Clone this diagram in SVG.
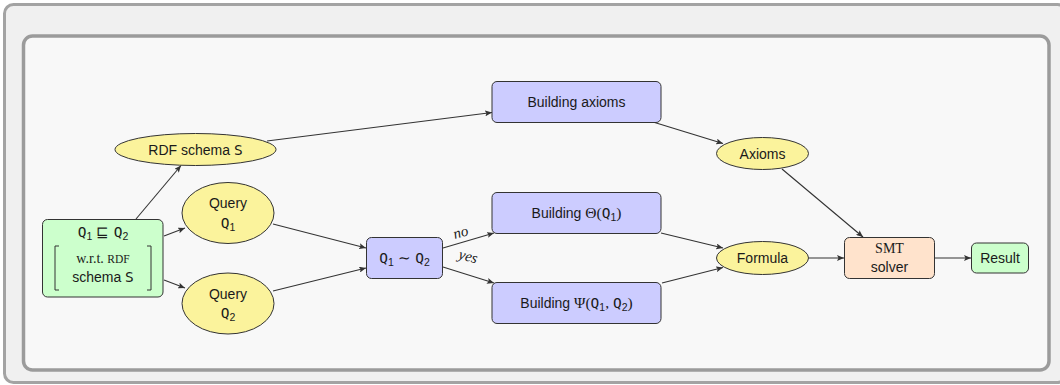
<svg xmlns="http://www.w3.org/2000/svg" width="1060" height="385" viewBox="0 0 1060 385">
<defs>
<style>
.sans{font-family:"Liberation Sans",Arial,sans-serif;font-size:14px;fill:#1a1a1a}
.tt{font-family:"DejaVu Sans Mono",monospace;font-size:14.5px}
.serif{font-family:"Liberation Serif","Times New Roman",serif}
.it{font-family:"Liberation Serif","Times New Roman",serif;font-style:italic;font-size:15px;fill:#1a1a1a}
.sub{font-size:10.5px}
.ell{fill:#fbf39c;stroke:#333;stroke-width:1}
.blue{fill:#ccccff;stroke:#333;stroke-width:1}
.green{fill:#ccffcc;stroke:#333;stroke-width:1}
.peach{fill:#ffe3cc;stroke:#333;stroke-width:1}
.edge{fill:none;stroke:#333;stroke-width:1.1;marker-end:url(#arr)}
</style>
<marker id="arr" markerWidth="8" markerHeight="6" refX="7" refY="3" orient="auto" markerUnits="userSpaceOnUse">
<path d="M0,0 L7,3 L0,6 L1.5,3 z" fill="#333"/>
</marker>
</defs>
<rect x="4.5" y="4.5" width="1062" height="378" rx="9" fill="#f0f0f0" stroke="#a3a3a3" stroke-width="3"/>
<rect x="23.5" y="36" width="1025.5" height="334" rx="9" fill="#f8f8f8" stroke="#9b9b9b" stroke-width="3.5"/>

<g id="connectors">
<path class="edge" d="M136,219 L181,165.5"/>
<path class="edge" d="M164,236 L185,228"/>
<path class="edge" d="M164,280 L185,288"/>
<path class="edge" d="M273,224 L366,248"/>
<path class="edge" d="M273,291 L366,268"/>
<path class="edge" d="M443,248 L494,233"/>
<path class="edge" d="M443,267 L494,283"/>
<path class="edge" d="M267,141 L492,112.5"/>
<path class="edge" d="M653,122 L723,143.5"/>
<path class="edge" d="M661,233 L723,248"/>
<path class="edge" d="M662,283 L723,267.5"/>
<path class="edge" d="M782,169 L863,237"/>
<path class="edge" d="M809,258 L844,258"/>
<path class="edge" d="M935,258 L971,258"/>
<text class="it" transform="translate(462,237) rotate(-16)" text-anchor="middle">no</text>
<text class="it" transform="translate(467,261) rotate(15)" text-anchor="middle">yes</text>
</g>

<g id="subsumption">
<rect class="green" x="42.5" y="219.5" width="120.5" height="77.5" rx="5"/>
<text class="sans" x="103" y="237" text-anchor="middle"><tspan class="tt">Q</tspan><tspan class="sub" dy="2.5">1</tspan><tspan dy="-2.5" font-size="15"> ⊑ </tspan><tspan class="tt">Q</tspan><tspan class="sub" dy="2.5">2</tspan></text>
<path d="M59,246 H55 V290 H59" fill="none" stroke="#333" stroke-width="1"/>
<path d="M147,246 H151 V290 H147" fill="none" stroke="#333" stroke-width="1"/>
<text class="sans" x="103" y="263" text-anchor="middle"><tspan class="serif" font-size="14">w.r.t. </tspan><tspan class="serif" font-size="11.5">RDF</tspan></text>
<text class="sans" x="103" y="282" text-anchor="middle">schema <tspan class="tt">S</tspan></text>
</g>

<g id="rdf-schema">
<ellipse class="ell" cx="195.5" cy="149.5" rx="80.5" ry="16"/>
<text class="sans" x="195.5" y="155" text-anchor="middle">RDF schema <tspan class="tt">S</tspan></text>
</g>

<g id="query1">
<ellipse class="ell" cx="228" cy="213" rx="46" ry="30.5"/>
<text class="sans" x="228" y="208" text-anchor="middle">Query</text>
<text class="sans" x="228" y="228" text-anchor="middle"><tspan class="tt">Q</tspan><tspan class="sub" dy="2.5">1</tspan></text>
</g>

<g id="query2">
<ellipse class="ell" cx="228" cy="303.5" rx="46" ry="30.5"/>
<text class="sans" x="228" y="299" text-anchor="middle">Query</text>
<text class="sans" x="228" y="318" text-anchor="middle"><tspan class="tt">Q</tspan><tspan class="sub" dy="2.5">2</tspan></text>
</g>

<g id="equiv">
<rect class="blue" x="366.5" y="237.5" width="76" height="41" rx="5"/>
<text class="sans" x="404.5" y="263" text-anchor="middle"><tspan class="tt">Q</tspan><tspan class="sub" dy="2.5">1</tspan><tspan dy="-2.5" font-size="15"> ∼ </tspan><tspan class="tt">Q</tspan><tspan class="sub" dy="2.5">2</tspan></text>
</g>

<g id="building-axioms">
<rect class="blue" x="492" y="81.5" width="169" height="41" rx="5"/>
<text class="sans" x="576.5" y="107" text-anchor="middle">Building axioms</text>
</g>

<g id="building-theta">
<rect class="blue" x="492" y="192.5" width="169" height="41" rx="5"/>
<text class="sans" x="576.5" y="218" text-anchor="middle">Building <tspan class="serif" font-size="15.5">Θ(</tspan><tspan class="tt">Q</tspan><tspan class="sub" dy="2.5">1</tspan><tspan class="serif" font-size="15.5" dy="-2.5">)</tspan></text>
</g>

<g id="building-psi">
<rect class="blue" x="492" y="282.5" width="169" height="41" rx="5"/>
<text class="sans" x="576.5" y="308" text-anchor="middle">Building <tspan class="serif" font-size="15.5">Ψ(</tspan><tspan class="tt">Q</tspan><tspan class="sub" dy="2.5">1</tspan><tspan class="serif" font-size="15.5" dy="-2.5">, </tspan><tspan class="tt">Q</tspan><tspan class="sub" dy="2.5">2</tspan><tspan class="serif" font-size="15.5" dy="-2.5">)</tspan></text>
</g>

<g id="axioms">
<ellipse class="ell" cx="762.5" cy="153.5" rx="46" ry="16"/>
<text class="sans" x="762.5" y="158.5" text-anchor="middle">Axioms</text>
</g>

<g id="formula">
<ellipse class="ell" cx="762.5" cy="258" rx="46" ry="16.5"/>
<text class="sans" x="762.5" y="263" text-anchor="middle">Formula</text>
</g>

<g id="smt-solver">
<rect class="peach" x="844.5" y="237.5" width="90" height="41" rx="5"/>
<text class="sans serif" x="889.5" y="253" text-anchor="middle" font-size="15.5">SMT</text>
<text class="sans" x="889.5" y="272" text-anchor="middle">solver</text>
</g>

<g id="result">
<rect class="green" x="971.5" y="243" width="57" height="30" rx="5"/>
<text class="sans" x="1000" y="263" text-anchor="middle">Result</text>
</g>
</svg>
